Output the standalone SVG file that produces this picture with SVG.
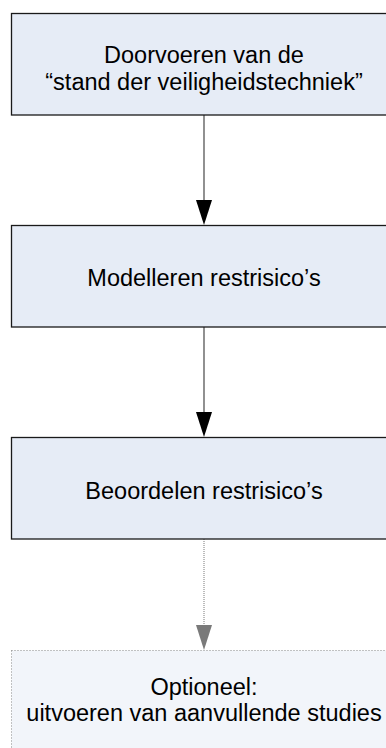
<svg xmlns="http://www.w3.org/2000/svg" width="386" height="748" viewBox="0 0 386 748">
<defs>
<style>
.box{fill:#e6ecf6;stroke:#1a1a1a;stroke-width:1.3}
.opt{fill:#f2f5fa;stroke:#888;stroke-width:1;stroke-dasharray:1 2}
.t{font-family:"Liberation Sans",Arial,sans-serif;font-size:23.5px;fill:#000;text-anchor:middle}
.c{stroke:#555;stroke-width:1.3;fill:none}
.cd{stroke:#999;stroke-width:1.3;fill:none;stroke-dasharray:1 1}
</style>
</defs>
<g id="connectors">
<path class="c" d="M204,115 V200" />
<path d="M196,200 L212,200 L204,225 Z" fill="#000"/>
<path class="c" d="M204,327 V412" />
<path d="M196,412 L212,412 L204,437 Z" fill="#000"/>
<path class="cd" d="M204,539 V625" />
<path d="M196,625 L212,625 L204,650 Z" fill="#7a7a7a"/>
</g>
<g id="node1">
<rect class="box" x="11.5" y="13.5" width="390" height="101.5"/>
<text class="t" x="204" y="63">Doorvoeren van de</text>
<text class="t" x="204" y="90">“stand der veiligheidstechniek”</text>
</g>
<g id="node2">
<rect class="box" x="11.5" y="225.5" width="390" height="101.5"/>
<text class="t" x="204" y="286">Modelleren restrisico’s</text>
</g>
<g id="node3">
<rect class="box" x="11.5" y="437.5" width="390" height="101.5"/>
<text class="t" x="204" y="499">Beoordelen restrisico’s</text>
</g>
<g id="node4">
<rect class="opt" x="11.5" y="650.5" width="390" height="110"/>
<text class="t" x="204" y="695">Optioneel:</text>
<text class="t" x="204" y="721">uitvoeren van aanvullende studies</text>
</g>
</svg>
